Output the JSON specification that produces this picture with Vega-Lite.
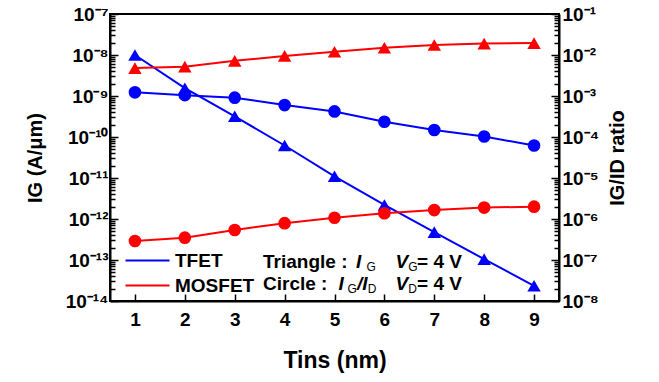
{
  "$schema": "https://vega.github.io/schema/vega-lite/v6.json",
  "width": 449,
  "height": 287,
  "autosize": {"type": "none"},
  "padding": {"left": 110, "top": 14, "right": 100, "bottom": 81},
  "background": "white",
  "config": {
    "view": {"stroke": "black", "strokeWidth": 2},
    "font": "Liberation Sans",
    "axis": {
      "grid": false,
      "domainColor": "black",
      "domainWidth": 2,
      "labelColor": "black",
      "labelFont": "Liberation Sans",
      "labelFontSize": 19,
      "labelFontWeight": "bold",
      "labelOverlap": false,
      "titleColor": "black",
      "titleFont": "Liberation Sans",
      "titleFontWeight": "bold"
    },
    "text": {"font": "Liberation Sans", "color": "black", "align": "left", "baseline": "alphabetic"}
  },
  "datasets": {
    "curves": [
      {"T": 1, "device": "TFET", "IG": 1.0e-8, "ratio": 1.23e-3},
      {"T": 2, "device": "TFET", "IG": 1.55e-9, "ratio": 1.05e-3},
      {"T": 3, "device": "TFET", "IG": 3.2e-10, "ratio": 9.1e-4},
      {"T": 4, "device": "TFET", "IG": 6.2e-11, "ratio": 6.0e-4},
      {"T": 5, "device": "TFET", "IG": 1.1e-11, "ratio": 4.2e-4},
      {"T": 6, "device": "TFET", "IG": 2.2e-12, "ratio": 2.35e-4},
      {"T": 7, "device": "TFET", "IG": 4.8e-13, "ratio": 1.48e-4},
      {"T": 8, "device": "TFET", "IG": 1.05e-13, "ratio": 1.03e-4},
      {"T": 9, "device": "TFET", "IG": 2.35e-14, "ratio": 6.2e-5},
      {"T": 1, "device": "MOSFET", "IG": 4.8e-9, "ratio": 2.9e-7},
      {"T": 2, "device": "MOSFET", "IG": 5.2e-9, "ratio": 3.5e-7},
      {"T": 3, "device": "MOSFET", "IG": 7.2e-9, "ratio": 5.4e-7},
      {"T": 4, "device": "MOSFET", "IG": 9.5e-9, "ratio": 7.9e-7},
      {"T": 5, "device": "MOSFET", "IG": 1.2e-8, "ratio": 1.07e-6},
      {"T": 6, "device": "MOSFET", "IG": 1.5e-8, "ratio": 1.38e-6},
      {"T": 7, "device": "MOSFET", "IG": 1.75e-8, "ratio": 1.65e-6},
      {"T": 8, "device": "MOSFET", "IG": 1.9e-8, "ratio": 1.9e-6},
      {"T": 9, "device": "MOSFET", "IG": 1.95e-8, "ratio": 2.0e-6}
    ]
  },
  "layer": [
    {
      "layer": [
        {
          "data": {"name": "curves"},
          "mark": {"type": "line", "strokeWidth": 2},
          "encoding": {
            "x": {
              "field": "T", "type": "quantitative",
              "scale": {"domain": [0.5, 9.5], "nice": false, "zero": false},
              "axis": {
                "title": "Tins (nm)",
                "values": [1, 2, 3, 4, 5, 6, 7, 8, 9],
                "ticks": true,
                "tickColor": "black",
                "tickWidth": 1.5,
                "tickSize": -7,
                "labelPadding": 16,
                "titleFontSize": 23,
                "titleBaseline": "alphabetic",
                "titleY": 66
              }
            },
            "y": {
              "field": "IG", "type": "quantitative",
              "scale": {"type": "log", "domain": [1e-14, 1e-7], "nice": false},
              "axis": {
                "orient": "left",
                "title": "IG (A/μm)",
                "titleFontSize": 20,
                "titleAngle": 270,
                "titleBaseline": "middle",
                "titleX": -75,
                "values": [1e-14, 2e-14, 3e-14, 4e-14, 5e-14, 6e-14, 7e-14, 8e-14, 9e-14,
                           1e-13, 2e-13, 3e-13, 4e-13, 5e-13, 6e-13, 7e-13, 8e-13, 9e-13,
                           1e-12, 2e-12, 3e-12, 4e-12, 5e-12, 6e-12, 7e-12, 8e-12, 9e-12,
                           1e-11, 2e-11, 3e-11, 4e-11, 5e-11, 6e-11, 7e-11, 8e-11, 9e-11,
                           1e-10, 2e-10, 3e-10, 4e-10, 5e-10, 6e-10, 7e-10, 8e-10, 9e-10,
                           1e-9, 2e-9, 3e-9, 4e-9, 5e-9, 6e-9, 7e-9, 8e-9, 9e-9,
                           1e-8, 2e-8, 3e-8, 4e-8, 5e-8, 6e-8, 7e-8, 8e-8, 9e-8, 1e-7],
                "ticks": true,
                "tickColor": "black",
                "tickWidth": 1.5,
                "tickSize": {"condition": {"test": "abs(log(datum.value)/LN10 - round(log(datum.value)/LN10)) < 0.01", "value": -8}, "value": -5},
                "labelPadding": 10,
                "labelExpr": "abs(log(datum.value)/LN10 - round(log(datum.value)/LN10)) < 0.01 ? '10⁻' + (abs(round(log(datum.value)/LN10)) >= 10 ? '¹' : '') + substring('⁰¹²³⁴⁵⁶⁷⁸⁹', abs(round(log(datum.value)/LN10)) % 10, abs(round(log(datum.value)/LN10)) % 10 + 1) : ''"
              }
            },
            "color": {
              "field": "device", "type": "nominal",
              "scale": {"domain": ["TFET", "MOSFET"], "range": ["#0000FF", "#FF0000"]},
              "legend": {
                "orient": "none",
                "legendX": 28,
                "legendY": 237,
                "title": null,
                "padding": 0,
                "symbolType": "M-4.4,0H4.4",
                "symbolSize": 100,
                "symbolStrokeWidth": 2,
                "labelFont": "Liberation Sans",
                "labelFontSize": 19,
                "labelFontWeight": "bold",
                "labelColor": "black",
                "labelOffset": 18,
                "rowPadding": 5
              }
            }
          }
        },
        {
          "data": {"name": "curves"},
          "mark": {"type": "point", "shape": "triangle-up", "filled": true, "opacity": 1, "size": 180},
          "encoding": {
            "x": {"field": "T", "type": "quantitative"},
            "y": {"field": "IG", "type": "quantitative"},
            "color": {"field": "device", "type": "nominal", "legend": null}
          }
        },
        {
          "data": {"values": [{}]},
          "mark": {"type": "text", "text": "Triangle : ", "fontSize": 19, "fontWeight": "bold"},
          "encoding": {"x": {"datum": 3.567, "type": "quantitative"}, "y": {"datum": 6.38e-14, "type": "quantitative"}}
        },
        {
          "data": {"values": [{}]},
          "mark": {"type": "text", "text": "I", "fontSize": 19, "fontWeight": "bold", "fontStyle": "italic"},
          "encoding": {"x": {"datum": 5.431, "type": "quantitative"}, "y": {"datum": 6.38e-14, "type": "quantitative"}}
        },
        {
          "data": {"values": [{}]},
          "mark": {"type": "text", "text": "G", "dy": 2.5, "fontSize": 12},
          "encoding": {"x": {"datum": 5.64, "type": "quantitative"}, "y": {"datum": 6.38e-14, "type": "quantitative"}}
        },
        {
          "data": {"values": [{}]},
          "mark": {"type": "text", "text": "V", "fontSize": 19, "fontWeight": "bold", "fontStyle": "italic"},
          "encoding": {"x": {"datum": 6.223, "type": "quantitative"}, "y": {"datum": 6.38e-14, "type": "quantitative"}}
        },
        {
          "data": {"values": [{}]},
          "mark": {"type": "text", "text": "G", "dy": 2.5, "fontSize": 12},
          "encoding": {"x": {"datum": 6.479, "type": "quantitative"}, "y": {"datum": 6.38e-14, "type": "quantitative"}}
        },
        {
          "data": {"values": [{}]},
          "mark": {"type": "text", "text": "= 4 V", "fontSize": 19, "fontWeight": "bold"},
          "encoding": {"x": {"datum": 6.654, "type": "quantitative"}, "y": {"datum": 6.38e-14, "type": "quantitative"}}
        },
        {
          "data": {"values": [{}]},
          "mark": {"type": "text", "text": "Circle : ", "fontSize": 19, "fontWeight": "bold"},
          "encoding": {"x": {"datum": 3.567, "type": "quantitative"}, "y": {"datum": 1.85e-14, "type": "quantitative"}}
        },
        {
          "data": {"values": [{}]},
          "mark": {"type": "text", "text": "I", "fontSize": 19, "fontWeight": "bold", "fontStyle": "italic"},
          "encoding": {"x": {"datum": 5.08, "type": "quantitative"}, "y": {"datum": 1.85e-14, "type": "quantitative"}}
        },
        {
          "data": {"values": [{}]},
          "mark": {"type": "text", "text": "G", "dy": 2.5, "fontSize": 12},
          "encoding": {"x": {"datum": 5.26, "type": "quantitative"}, "y": {"datum": 1.85e-14, "type": "quantitative"}}
        },
        {
          "data": {"values": [{}]},
          "mark": {"type": "text", "text": "/I", "fontSize": 19, "fontWeight": "bold", "fontStyle": "italic"},
          "encoding": {"x": {"datum": 5.451, "type": "quantitative"}, "y": {"datum": 1.85e-14, "type": "quantitative"}}
        },
        {
          "data": {"values": [{}]},
          "mark": {"type": "text", "text": "D", "dy": 2.5, "fontSize": 12},
          "encoding": {"x": {"datum": 5.665, "type": "quantitative"}, "y": {"datum": 1.85e-14, "type": "quantitative"}}
        },
        {
          "data": {"values": [{}]},
          "mark": {"type": "text", "text": "V", "fontSize": 19, "fontWeight": "bold", "fontStyle": "italic"},
          "encoding": {"x": {"datum": 6.223, "type": "quantitative"}, "y": {"datum": 1.85e-14, "type": "quantitative"}}
        },
        {
          "data": {"values": [{}]},
          "mark": {"type": "text", "text": "D", "dy": 2.5, "fontSize": 12},
          "encoding": {"x": {"datum": 6.479, "type": "quantitative"}, "y": {"datum": 1.85e-14, "type": "quantitative"}}
        },
        {
          "data": {"values": [{}]},
          "mark": {"type": "text", "text": "= 4 V", "fontSize": 19, "fontWeight": "bold"},
          "encoding": {"x": {"datum": 6.654, "type": "quantitative"}, "y": {"datum": 1.85e-14, "type": "quantitative"}}
        }
      ]
    },
    {
      "data": {"name": "curves"},
      "layer": [
        {
          "mark": {"type": "line", "strokeWidth": 2},
          "encoding": {
            "x": {"field": "T", "type": "quantitative"},
            "y": {
              "field": "ratio", "type": "quantitative",
              "scale": {"type": "log", "domain": [1e-8, 1e-1], "nice": false},
              "axis": {
                "orient": "right",
                "title": "IG/ID ratio",
                "titleFontSize": 20,
                "titleAngle": 270,
                "titleBaseline": "middle",
                "titleX": 58,
                "values": [1e-8, 2e-8, 3e-8, 4e-8, 5e-8, 6e-8, 7e-8, 8e-8, 9e-8,
                           1e-7, 2e-7, 3e-7, 4e-7, 5e-7, 6e-7, 7e-7, 8e-7, 9e-7,
                           1e-6, 2e-6, 3e-6, 4e-6, 5e-6, 6e-6, 7e-6, 8e-6, 9e-6,
                           1e-5, 2e-5, 3e-5, 4e-5, 5e-5, 6e-5, 7e-5, 8e-5, 9e-5,
                           1e-4, 2e-4, 3e-4, 4e-4, 5e-4, 6e-4, 7e-4, 8e-4, 9e-4,
                           0.001, 0.002, 0.003, 0.004, 0.005, 0.006, 0.007, 0.008, 0.009,
                           0.01, 0.02, 0.03, 0.04, 0.05, 0.06, 0.07, 0.08, 0.09, 0.1],
                "ticks": true,
                "tickColor": "black",
                "tickWidth": 1.5,
                "tickSize": {"condition": {"test": "abs(log(datum.value)/LN10 - round(log(datum.value)/LN10)) < 0.01", "value": -8}, "value": -5},
                "labelPadding": 11,
                "labelExpr": "abs(log(datum.value)/LN10 - round(log(datum.value)/LN10)) < 0.01 ? '10⁻' + (abs(round(log(datum.value)/LN10)) >= 10 ? '¹' : '') + substring('⁰¹²³⁴⁵⁶⁷⁸⁹', abs(round(log(datum.value)/LN10)) % 10, abs(round(log(datum.value)/LN10)) % 10 + 1) : ''"
              }
            },
            "color": {"field": "device", "type": "nominal", "legend": null}
          }
        },
        {
          "mark": {"type": "point", "shape": "circle", "filled": true, "opacity": 1, "size": 160},
          "encoding": {
            "x": {"field": "T", "type": "quantitative"},
            "y": {"field": "ratio", "type": "quantitative"},
            "color": {"field": "device", "type": "nominal", "legend": null}
          }
        }
      ]
    }
  ],
  "resolve": {"scale": {"y": "independent"}}
}
